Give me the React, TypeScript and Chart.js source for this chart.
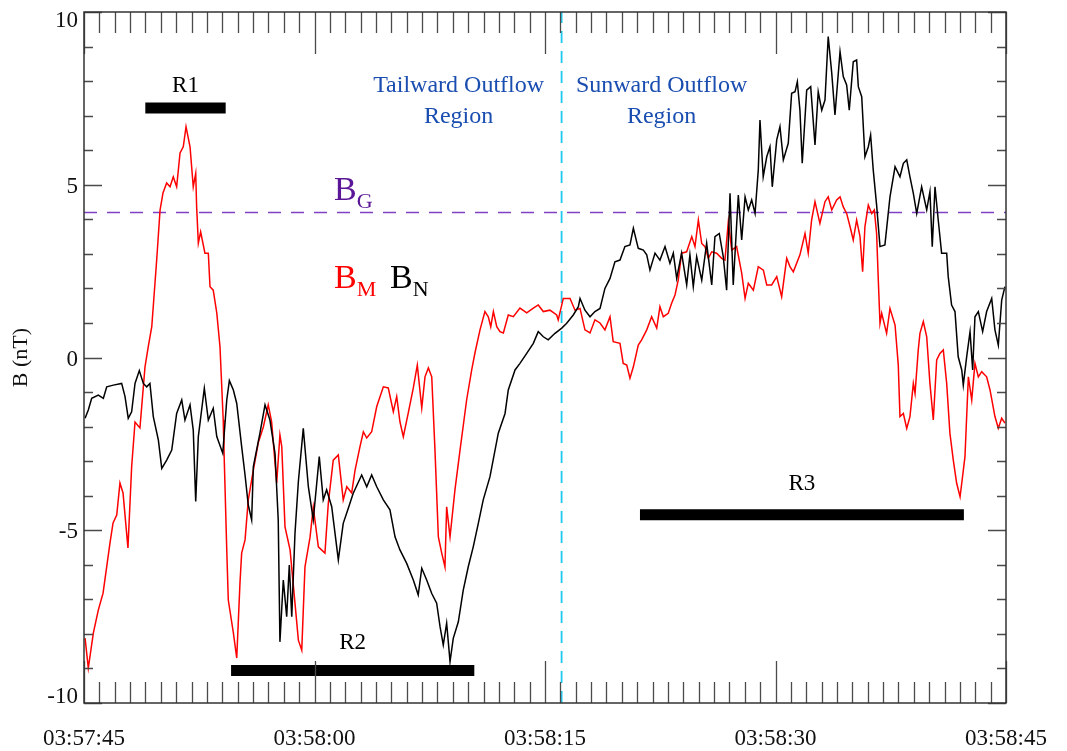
import React, { useEffect, useRef } from 'react';
import { Chart, registerables } from 'chart.js';

Chart.register(...registerables);

// Time axis: seconds after 03:57:45 UT
const X_MIN = 0;
const X_MAX = 60;
const X_TICK_SECONDS = [0, 15, 30, 45, 60];
const X_TICK_LABELS = ['03:57:45', '03:58:00', '03:58:15', '03:58:30', '03:58:45'];
const Y_TICK_VALUES = [-10, -5, 0, 5, 10];
const Y_TICK_LABELS = ['-10', '-5', '0', '5', '10'];

// B_M component (nT)
const BM_T = [0.07,0.28,0.61,0.93,1.24,1.69,1.89,2.13,2.34,2.54,2.86,3.10,3.32,3.64,3.97,4.18,4.41,4.73,4.95,5.14,5.38,5.60,5.81,6.03,6.25,6.46,6.64,6.90,7.11,7.27,7.33,7.44,7.59,7.87,8.09,8.20,8.41,8.64,8.85,9.06,9.11,9.29,9.39,9.72,9.94,10.15,10.26,10.48,10.69,11.02,11.34,11.67,11.99,12.21,12.43,12.54,12.75,12.87,13.08,13.41,13.73,13.95,14.17,14.38,14.71,14.92,15.25,15.68,15.90,16.22,16.55,16.87,17.10,17.42,17.64,17.96,18.18,18.40,18.72,19.05,19.48,19.80,20.13,20.35,20.56,20.78,21.10,21.43,21.69,21.98,22.19,22.41,22.63,22.84,23.06,23.28,23.49,23.60,23.82,24.14,24.47,24.90,25.23,25.44,25.77,26.09,26.31,26.47,26.64,26.86,27.07,27.29,27.61,27.94,28.37,28.81,29.24,29.56,29.89,30.32,30.76,30.86,31.19,31.63,31.95,32.28,32.60,32.93,33.25,33.58,33.90,34.23,34.44,34.88,35.09,35.32,35.53,35.75,36.07,36.29,36.62,36.94,37.27,37.48,37.70,38.02,38.24,38.46,38.67,38.89,39.22,39.55,39.76,39.98,40.20,40.41,40.63,40.85,41.17,41.50,41.71,41.93,42.15,42.47,42.80,43.02,43.23,43.56,43.88,44.21,44.43,44.75,45.08,45.40,45.73,45.94,46.16,46.59,46.92,47.13,47.35,47.57,47.89,48.22,48.43,48.66,48.98,49.20,49.41,49.63,49.85,50.06,50.28,50.50,50.67,50.82,51.04,51.26,51.43,51.58,51.69,51.80,51.91,52.23,52.45,52.78,52.99,53.10,53.32,53.54,53.75,53.97,54.08,54.29,54.40,54.62,54.84,55.05,55.27,55.49,55.70,55.92,56.14,56.35,56.57,56.79,57.01,57.12,57.33,57.55,57.77,57.98,58.20,58.42,58.74,58.96,59.28,59.50,59.72,59.93];
const BM_V = [-8.12,-8.99,-7.97,-7.31,-6.82,-5.37,-4.79,-4.56,-3.63,-3.92,-5.51,-3.17,-1.87,-2.04,-0.27,0.31,0.89,2.82,4.27,4.76,5.05,4.94,5.23,4.94,5.92,6.10,6.68,6.10,4.94,5.33,4.36,3.31,3.64,3.02,3.02,2.05,1.95,1.29,0.31,-1.81,-2.68,-5.57,-7.02,-7.97,-8.70,-6.53,-5.66,-5.28,-4.12,-3.26,-2.47,-2.01,-1.37,-1.86,-3.05,-3.63,-2.24,-2.58,-4.90,-5.57,-7.11,-8.18,-8.47,-6.06,-5.20,-4.33,-5.48,-5.66,-4.21,-2.97,-2.82,-4.12,-3.74,-3.92,-3.26,-2.58,-2.15,-2.33,-2.15,-1.42,-0.85,-0.88,-1.57,-1.13,-1.86,-2.29,-1.61,-0.88,-0.22,-1.46,-0.56,-0.30,-0.56,-2.68,-5.19,-5.66,-6.06,-4.32,-5.19,-3.83,-2.68,-1.23,-0.36,0.13,0.80,1.33,1.18,0.89,1.33,0.89,0.75,0.71,1.23,1.18,1.43,1.29,1.43,1.52,1.33,1.37,1.23,1.09,1.71,1.71,1.37,1.42,0.80,0.71,1.09,1.00,0.80,1.18,0.46,0.41,-0.17,-0.22,-0.60,-0.27,0.36,0.51,0.80,1.18,0.85,1.47,1.18,1.28,1.57,1.81,2.24,3.02,3.06,3.50,3.21,3.98,3.30,3.21,2.87,3.06,3.02,2.87,2.82,3.93,3.11,3.21,2.44,1.71,2.15,1.95,2.63,2.53,2.10,2.10,2.34,1.76,2.87,2.63,2.48,2.97,3.59,3.02,3.98,4.51,3.88,4.51,4.65,4.27,4.56,4.65,4.36,4.17,3.79,3.40,3.98,3.50,2.48,3.79,4.41,4.17,4.27,3.59,2.24,0.99,1.28,0.70,1.42,0.94,-0.22,-1.71,-1.62,-2.05,-1.71,-0.75,-1.04,0.22,0.70,1.04,0.60,-0.75,-1.81,-0.07,0.12,0.22,-0.75,-2.19,-2.97,-3.64,-4.03,-3.64,-2.87,-0.56,-1.23,-0.17,-0.56,-0.41,-0.56,-0.94,-1.71,-2.05,-1.76,-1.90];

// B_N component (nT)
const BN_T = [0.07,0.28,0.50,0.93,1.26,1.48,1.91,2.45,2.67,2.88,3.10,3.32,3.60,3.86,4.08,4.29,4.51,4.84,5.06,5.38,5.71,6.03,6.36,6.57,6.90,7.11,7.27,7.44,7.83,8.09,8.41,8.64,9.03,9.29,9.46,9.72,9.94,10.26,10.48,10.69,10.91,11.02,11.45,11.78,12.10,12.43,12.64,12.75,12.97,13.19,13.36,13.52,13.73,13.95,14.27,14.60,14.92,15.31,15.57,15.79,16.12,16.55,16.87,17.20,17.52,18.07,18.40,18.72,19.05,19.48,19.91,20.24,20.56,21.00,21.43,21.75,21.98,22.30,22.63,22.95,23.17,23.38,23.60,23.82,24.03,24.36,24.68,25.01,25.33,25.66,25.98,26.42,26.96,27.40,27.61,28.05,28.37,28.81,29.24,29.56,29.89,30.21,30.65,31.09,31.41,31.84,32.17,32.28,32.60,32.93,33.25,33.58,33.90,34.23,34.55,34.88,35.20,35.53,35.75,36.07,36.40,36.62,36.83,37.16,37.48,37.81,38.13,38.35,38.57,38.89,39.22,39.43,39.65,39.87,40.20,40.52,40.85,41.06,41.34,41.60,41.82,42.04,42.25,42.58,42.80,43.02,43.23,43.45,43.67,43.88,43.99,44.20,44.43,44.64,44.79,45.08,45.29,45.51,45.83,46.05,46.27,46.42,46.59,46.74,47.03,47.29,47.57,47.78,48.01,48.22,48.43,48.66,48.87,49.20,49.41,49.63,49.80,50.06,50.28,50.39,50.61,50.82,51.04,51.19,51.36,51.58,51.80,52.12,52.45,52.78,53.10,53.32,53.54,53.75,53.97,54.19,54.51,54.84,55.05,55.20,55.38,55.59,55.81,56.14,56.24,56.46,56.68,56.89,57.12,57.22,57.44,57.66,57.83,57.98,58.20,58.48,58.74,59.07,59.28,59.50,59.72,59.93];
const BN_V = [-1.76,-1.52,-1.18,-1.09,-1.18,-0.85,-0.80,-0.75,-1.13,-1.76,-1.57,-0.75,-0.38,-0.75,-0.85,-0.75,-1.71,-2.39,-3.21,-2.97,-2.68,-1.62,-1.23,-1.81,-1.37,-2.10,-4.17,-2.29,-0.89,-1.81,-1.47,-2.29,-2.77,-1.23,-0.67,-0.94,-1.33,-2.58,-3.40,-4.27,-4.70,-3.16,-2.19,-1.37,-1.81,-2.77,-4.70,-8.23,-6.44,-7.50,-6.01,-7.50,-5.09,-3.59,-2.05,-3.74,-4.70,-2.87,-4.12,-3.83,-4.32,-5.86,-4.80,-4.36,-3.93,-3.40,-3.74,-3.40,-3.74,-4.12,-4.41,-5.19,-5.57,-5.96,-6.44,-6.87,-6.10,-6.44,-6.83,-7.11,-7.79,-8.32,-7.69,-8.80,-8.13,-7.65,-6.73,-6.05,-5.48,-4.80,-4.12,-3.45,-2.19,-1.62,-0.94,-0.36,-0.17,0.12,0.41,0.75,0.60,0.51,0.70,0.85,0.99,1.23,1.47,1.71,1.37,1.18,1.33,1.42,2.00,2.29,2.77,2.82,3.21,3.26,3.74,3.16,3.11,2.97,2.53,3.02,2.82,3.21,2.73,3.02,2.29,3.02,2.10,2.97,2.05,2.92,2.24,3.31,2.10,3.50,3.59,2.92,1.95,4.75,2.10,4.70,3.40,4.65,4.27,4.56,4.17,5.43,6.87,5.23,5.81,6.10,4.94,6.30,6.68,5.72,6.20,7.65,7.69,7.98,7.16,5.62,7.74,7.84,6.15,7.69,7.16,7.45,9.29,8.23,7.02,8.85,8.13,7.89,7.16,8.56,8.61,7.84,7.55,5.81,6.10,6.44,5.43,4.41,3.21,3.26,4.65,5.52,5.23,5.62,5.72,5.23,4.75,4.17,4.94,4.27,4.80,3.21,4.94,3.98,3.02,3.02,2.34,1.52,1.33,0.02,-0.36,-0.80,0.02,0.75,-0.36,1.18,1.33,0.75,1.33,1.71,0.80,0.36,1.66,2.05];

// Guide field level and outflow boundary time
const BG_VALUE = 4.2;
const BOUNDARY_T = 31.08;

// Marked intervals R1–R3
const R_LABELS = ['R1', 'R2', 'R3'];
const R_START = [3.99, 9.57, 36.18];
const R_END = [9.22, 25.4, 57.26];
const R_LEVEL = [7.22, -9.06, -4.55];

const SERIF = '"Liberation Serif", "Times New Roman", serif';

const toPoints = (ts: number[], vs: number[]) =>
  ts.slice(0, Math.min(ts.length, vs.length)).map((t, i) => ({ x: t, y: vs[i] }));

function drawSubscripted(
  ctx: CanvasRenderingContext2D,
  x: number,
  y: number,
  main: string,
  sub: string,
  color: string
) {
  ctx.fillStyle = color;
  ctx.textAlign = 'left';
  ctx.textBaseline = 'alphabetic';
  ctx.font = `34px ${SERIF}`;
  ctx.fillText(main, x, y);
  const w = ctx.measureText(main).width;
  ctx.font = `22px ${SERIF}`;
  ctx.fillText(sub, x + w, y + 8);
}

const framePlugin = {
  id: 'idlFrame',
  afterDraw(chart: any) {
    const { ctx, chartArea: a, scales } = chart;
    const xs = scales.x;
    const ys = scales.y;
    ctx.save();

    // tick marks on all four sides
    ctx.strokeStyle = '#4a4a4a';
    ctx.lineWidth = 1.3;
    ctx.beginPath();
    for (let s = X_MIN; s <= X_MAX; s++) {
      const px = Math.round(xs.getPixelForValue(s)) + 0.5;
      const len = s % 15 === 0 ? 42 : 21;
      ctx.moveTo(px, a.bottom);
      ctx.lineTo(px, a.bottom - len);
      ctx.moveTo(px, a.top);
      ctx.lineTo(px, a.top + len);
    }
    for (let v = -10; v <= 10; v++) {
      const py = Math.round(ys.getPixelForValue(v)) + 0.5;
      const len = v % 5 === 0 ? 18 : 9;
      ctx.moveTo(a.left, py);
      ctx.lineTo(a.left + len, py);
      ctx.moveTo(a.right, py);
      ctx.lineTo(a.right - len, py);
    }
    ctx.stroke();

    ctx.strokeStyle = '#333';
    ctx.lineWidth = 1.5;
    ctx.strokeRect(a.left, a.top, a.right - a.left, a.bottom - a.top);

    // tick labels
    ctx.fillStyle = '#111';
    ctx.font = `23px ${SERIF}`;
    ctx.textBaseline = 'alphabetic';
    ctx.textAlign = 'center';
    X_TICK_SECONDS.forEach((s, i) => {
      ctx.fillText(X_TICK_LABELS[i], xs.getPixelForValue(s), a.bottom + 42);
    });
    ctx.textAlign = 'right';
    Y_TICK_VALUES.forEach((v, i) => {
      const py = ys.getPixelForValue(v);
      const shift = v === 10 ? 15 : v === -10 ? 0 : 8;
      ctx.fillText(Y_TICK_LABELS[i], a.left - 6, py + shift);
    });

    // y-axis title
    ctx.save();
    ctx.translate(21, (a.top + a.bottom) / 2);
    ctx.rotate(-Math.PI / 2);
    ctx.textAlign = 'center';
    ctx.textBaseline = 'middle';
    ctx.font = `22px ${SERIF}`;
    ctx.fillText('B (nT)', 0, 0);
    ctx.restore();

    // region names beside the boundary
    const bx = xs.getPixelForValue(BOUNDARY_T);
    ctx.fillStyle = '#1a4db0';
    ctx.font = `24px ${SERIF}`;
    ctx.textAlign = 'center';
    ctx.fillText('Tailward Outflow', bx - 103, a.top + 80);
    ctx.fillText('Region', bx - 103, a.top + 111);
    ctx.fillText('Sunward Outflow', bx + 100, a.top + 80);
    ctx.fillText('Region', bx + 100, a.top + 111);

    // interval labels
    const rOffsets = [16, 22, 25];
    ctx.fillStyle = '#000';
    ctx.font = `23px ${SERIF}`;
    R_LABELS.forEach((lab, i) => {
      const cx = (xs.getPixelForValue(R_START[i]) + xs.getPixelForValue(R_END[i])) / 2;
      const cy = ys.getPixelForValue(R_LEVEL[i]);
      ctx.fillText(lab, cx, cy - rOffsets[i]);
    });

    // component labels
    drawSubscripted(ctx, xs.getPixelForValue(16.27), ys.getPixelForValue(4.56), 'B', 'G', '#5a1696');
    drawSubscripted(ctx, xs.getPixelForValue(16.27), ys.getPixelForValue(2.01), 'B', 'M', '#ff0000');
    drawSubscripted(ctx, xs.getPixelForValue(19.91), ys.getPixelForValue(2.01), 'B', 'N', '#000000');

    ctx.restore();
  },
};

export default function App() {
  const canvasRef = useRef<HTMLCanvasElement | null>(null);

  useEffect(() => {
    document.body.style.margin = '0';
    const canvas = canvasRef.current;
    if (!canvas) return;

    const barSets = R_LABELS.map((lab, i) => ({
      label: lab,
      data: [
        { x: R_START[i], y: R_LEVEL[i] },
        { x: R_END[i], y: R_LEVEL[i] },
      ],
      borderColor: '#000',
      borderWidth: 11,
      borderCapStyle: 'butt',
      pointRadius: 0,
      order: 0,
    }));

    const chart = new Chart(canvas, {
      type: 'line',
      data: {
        datasets: [
          ...barSets,
          {
            label: 'B_N',
            data: toPoints(BN_T, BN_V),
            borderColor: '#000',
            borderWidth: 1.5,
            pointRadius: 0,
            tension: 0,
            order: 1,
          },
          {
            label: 'B_M',
            data: toPoints(BM_T, BM_V),
            borderColor: '#ff0000',
            borderWidth: 1.5,
            pointRadius: 0,
            tension: 0,
            order: 2,
          },
          {
            label: 'B_G',
            data: [
              { x: X_MIN, y: BG_VALUE },
              { x: X_MAX, y: BG_VALUE },
            ],
            borderColor: '#8040c4',
            borderWidth: 1.5,
            borderDash: [13, 10],
            pointRadius: 0,
            order: 3,
          },
          {
            label: 'boundary',
            data: [
              { x: BOUNDARY_T, y: -10 },
              { x: BOUNDARY_T, y: 10 },
            ],
            borderColor: '#1ec8f0',
            borderWidth: 1.8,
            borderDash: [12, 8],
            pointRadius: 0,
            order: 4,
          },
        ] as any,
      },
      options: {
        animation: false,
        responsive: false,
        devicePixelRatio: 1,
        layout: { padding: { left: 84, top: 12, right: 61, bottom: 48 } },
        scales: {
          x: { type: 'linear', min: X_MIN, max: X_MAX, display: false },
          y: { type: 'linear', min: -10, max: 10, display: false },
        },
        plugins: {
          legend: { display: false },
          tooltip: { enabled: false },
        },
      },
      plugins: [framePlugin],
    });

    return () => chart.destroy();
  }, []);

  return (
    <div style={{ width: 1067, height: 751, background: '#fff' }}>
      <canvas ref={canvasRef} width={1067} height={751} style={{ display: 'block' }} />
    </div>
  );
}
